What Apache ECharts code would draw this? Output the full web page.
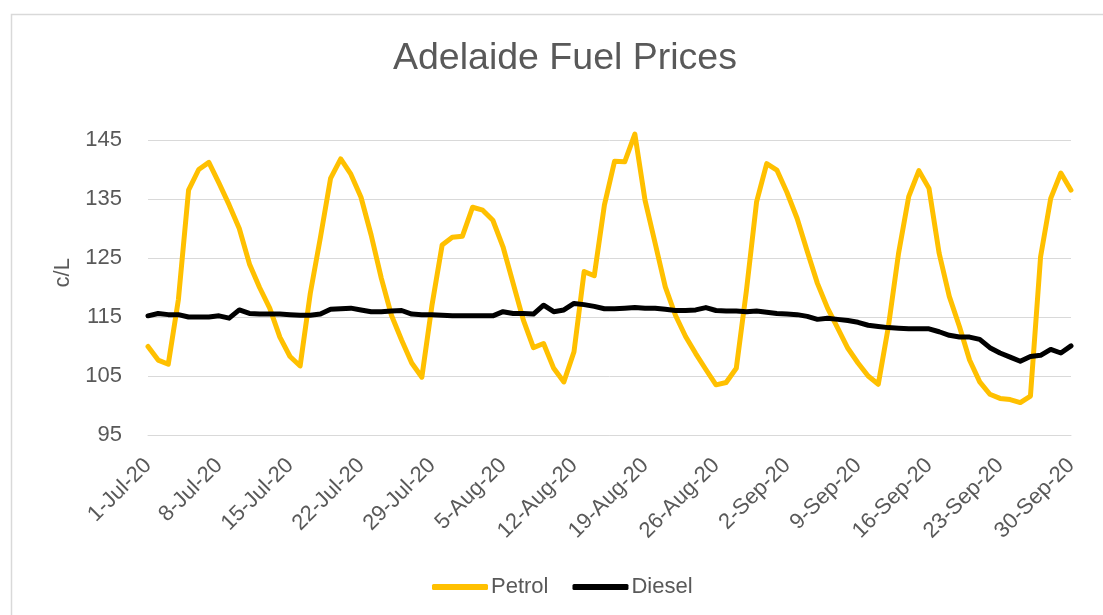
<!DOCTYPE html>
<html>
<head>
<meta charset="utf-8">
<title>Adelaide Fuel Prices</title>
<script src="https://cdn.jsdelivr.net/npm/echarts@6/dist/echarts.min.js"></script>
<style>
  html, body { margin: 0; padding: 0; background: #fff; }
  #main { width: 1103px; height: 615px; }
</style>
</head>
<body>
<div id="main"></div>
<script>
// daily prices, 1-Jul-20 .. 30-Sep-20 (c/L)
var startDate = "2020-07-01";
var dayCount = 92;
var months = ["Jan", "Feb", "Mar", "Apr", "May", "Jun", "Jul", "Aug", "Sep", "Oct", "Nov", "Dec"];

var petrol = [
  110, 107.7, 107, 118, 136.5, 140, 141.2, 137.7, 134, 130,
  124, 120, 116.5, 111.6, 108.3, 106.7, 119, 128.5, 138.5, 141.8,
  139.2, 135.3, 128.9, 121.6, 115.3, 111.1, 107.2, 104.8, 117, 127.2,
  128.5, 128.7, 133.6, 133.1, 131.4, 126.9, 120.7, 114.5, 109.8, 110.5,
  106.3, 104.0, 109.1, 122.7, 122.0, 134.0, 141.4, 141.3, 146.0, 134.8,
  127.5, 120.1, 115.3, 111.7, 108.8, 106.1, 103.5, 103.9, 106.3, 119.5,
  134.5, 141.0, 139.9, 136.1, 131.7, 126.1, 120.7, 116.5, 113.1, 109.7,
  107.2, 105.0, 103.6, 113.4, 125.8, 135.4, 139.8, 136.8, 125.8, 118.5,
  113.4, 107.7, 104.0, 101.9, 101.2, 101.0, 100.5, 101.6, 125.2, 135.1,
  139.4, 136.5
];

var diesel = [
  115.2, 115.6, 115.4, 115.4, 115.0, 115.0, 115.0, 115.2, 114.8, 116.2,
  115.6, 115.5, 115.5, 115.5, 115.4, 115.3, 115.3, 115.5, 116.3, 116.4,
  116.5, 116.2, 115.9, 115.9, 116.0, 116.1, 115.5, 115.4, 115.4, 115.3,
  115.2, 115.2, 115.2, 115.2, 115.2, 115.9, 115.6, 115.6, 115.5, 117.0,
  115.9, 116.2, 117.3, 117.1, 116.8, 116.4, 116.4, 116.5, 116.6, 116.5,
  116.5, 116.3, 116.1, 116.1, 116.2, 116.6, 116.1, 116.0, 116.0, 115.9,
  116.0, 115.8, 115.6, 115.5, 115.4, 115.1, 114.6, 114.8, 114.6, 114.4,
  114.1, 113.6, 113.4, 113.2, 113.1, 113.0, 113.0, 113.0, 112.5, 111.9,
  111.6, 111.6, 111.2, 109.8, 108.9, 108.2, 107.5, 108.3, 108.5, 109.5,
  108.9, 110.1
];

// ticks 95..145; axis runs to 150 so the 146 peak has room above the top line
var yTicks = { min: 95, max: 150, step: 10 };

// category labels like "1-Jul-20"
var dates = [];
var d0 = new Date(startDate + "T00:00:00");
for (var i = 0; i < dayCount; i++) {
  var d = new Date(d0.getTime());
  d.setDate(d0.getDate() + i);
  dates.push(d.getDate() + "-" + months[d.getMonth()] + "-" + String(d.getFullYear()).slice(2));
}

var font = "'Liberation Sans', Arial, sans-serif";
var grey = "#595959";

var myChart = echarts.init(document.getElementById("main"));
var option = {
  backgroundColor: "#fff",
  textStyle: { fontFamily: font },
  graphic: [
    {
      type: "rect",
      shape: { x: 11.5, y: 14.5, width: 1120, height: 640 },
      style: { fill: "none", stroke: "#d9d9d9", lineWidth: 1.5 },
      silent: true
    }
  ],
  title: {
    text: "Adelaide Fuel Prices",
    left: 393,
    top: 40,
    padding: 0,
    textStyle: {
      fontFamily: font,
      fontSize: 37.5,
      fontWeight: "normal",
      color: grey
    }
  },
  legend: {
    left: 432,
    top: 576,
    padding: 0,
    icon: "roundRect",
    itemWidth: 56,
    itemHeight: 6,
    itemGap: 24,
    textStyle: { fontFamily: font, fontSize: 22, color: grey, padding: [0, 0, 0, -2] },
    data: ["Petrol", "Diesel"]
  },
  grid: {
    left: 148,
    right: 32,
    top: 110.5,
    bottom: 180,
    outerBoundsMode: "none"
  },
  xAxis: {
    type: "category",
    data: dates,
    boundaryGap: false,
    axisLine: { show: true, lineStyle: { color: "#d9d9d9", width: 1 } },
    axisTick: { show: false },
    axisLabel: {
      interval: 6,
      rotate: 45,
      margin: 27,
      fontFamily: font,
      fontSize: 22,
      color: grey
    },
    splitLine: { show: false }
  },
  yAxis: {
    type: "value",
    min: yTicks.min,
    max: yTicks.max,
    interval: yTicks.step,
    name: "c/L",
    nameLocation: "middle",
    nameRotate: 90,
    nameGap: 74,
    nameTextStyle: { fontFamily: font, fontSize: 22, color: grey },
    axisLine: { show: false },
    axisTick: { show: false },
    axisLabel: {
      margin: 26,
      showMaxLabel: false,
      fontFamily: font,
      fontSize: 22,
      color: grey,
      formatter: function (v) { return v > 145 ? "" : v; }
    },
    splitLine: { showMaxLine: false, lineStyle: { color: "#d9d9d9", width: 1 } }
  },
  series: [
    {
      name: "Petrol",
      type: "line",
      data: petrol,
      symbol: "none",
      clip: false,
      color: "#ffc000",
      lineStyle: { color: "#ffc000", width: 5, cap: "round", join: "round" }
    },
    {
      name: "Diesel",
      type: "line",
      data: diesel,
      symbol: "none",
      clip: false,
      color: "#000000",
      lineStyle: { color: "#000000", width: 5, cap: "round", join: "round" }
    }
  ]
};
myChart.setOption(option);
</script>
</body>
</html>
